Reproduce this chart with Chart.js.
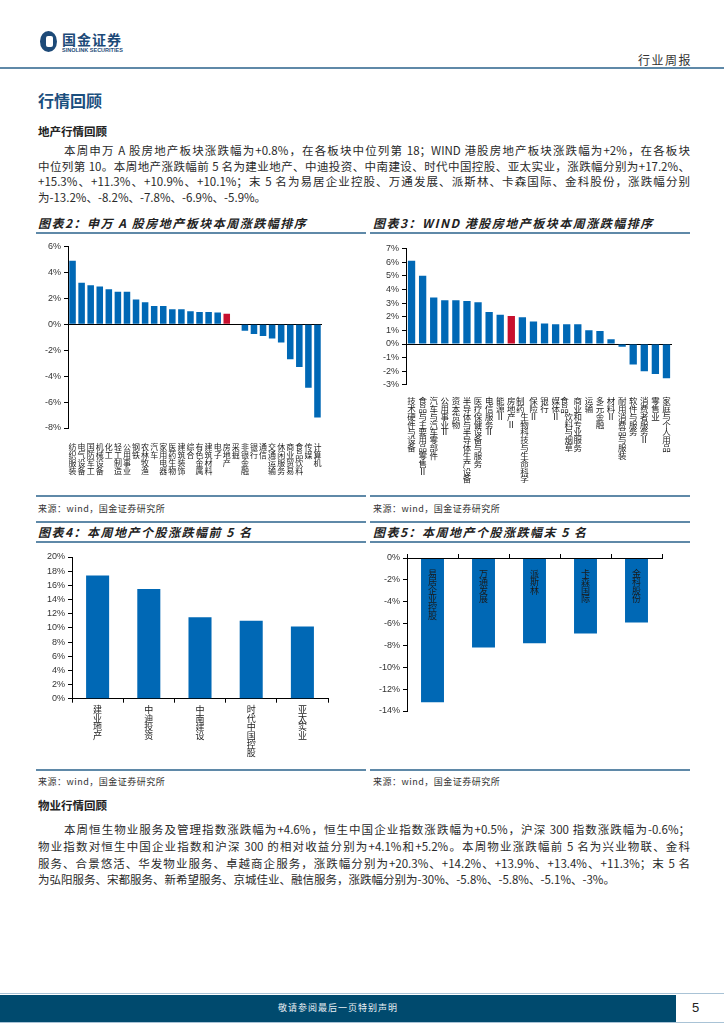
<!DOCTYPE html>
<html>
<head>
<meta charset="utf-8">
<script src="https://cdn.jsdelivr.net/npm/chart.js@4.4.0/dist/chart.umd.min.js"></script>
<style>
  body { margin: 0; background: #fff; }
  #page { position: relative; width: 724px; height: 1024px; overflow: hidden; font-family: 'Noto Sans CJK SC', sans-serif; color: #222; }
  .abs { position: absolute; }
  .line { position: absolute; height: 2px; background: #5f89a8; }
  .ptxt { position: absolute; left: 38px; width: 652px; font-size: 11.5px; line-height: 16px; white-space: nowrap; text-align: justify; text-align-last: justify; color: #2a2a2a; }
  .ptxt.last { text-align-last: left; }
  .ptxt.first { left: 64px; width: 626px; }
  .ctitle { position: absolute; font-size: 12px; font-weight: bold; font-style: italic; letter-spacing: 1.5px; color: #222; }
  .src { position: absolute; font-size: 9px; color: #333; letter-spacing: 0.5px; }
  .box { position: absolute; }
</style>
</head>
<body>
<div id="page">
  <!-- header -->
  <div class="abs" style="left:40px;top:31px;width:17px;height:21px;border-radius:50%;background:#1d4a78;"></div>
  <div class="abs" style="left:46px;top:36px;width:7px;height:11px;border-radius:2px;background:#fff;"></div>
  <div class="abs" style="left:62px;top:31px;font-size:14px;font-weight:bold;color:#1d4a78;letter-spacing:1px;line-height:16px;">国金证券</div>
  <div class="abs" style="left:62px;top:47px;font-size:5.5px;font-weight:bold;color:#1d4a78;font-family:'Liberation Sans';line-height:7px;">SINOLINK SECURITIES</div>
  <div class="abs" style="left:638px;top:52px;font-size:12px;color:#333;letter-spacing:1.5px;line-height:16px;">行业周报</div>
  <div class="line" style="left:0;top:67px;width:724px;"></div>

  <div class="abs" style="left:38px;top:90px;font-size:16px;font-weight:bold;color:#1b4f7e;line-height:20px;">行情回顾</div>

  <div class="abs" style="left:38px;top:123px;font-size:11.5px;font-weight:bold;line-height:16px;">地产行情回顾</div>
  <div class="ptxt first" style="top:142px;">本周申万 A 股房地产板块涨跌幅为+0.8%，在各板块中位列第 18；WIND 港股房地产板块涨跌幅为+2%，在各板块</div>
  <div class="ptxt" style="top:158px;">中位列第 10。本周地产涨跌幅前 5 名为建业地产、中迪投资、中南建设、时代中国控股、亚太实业，涨跌幅分别为+17.2%、</div>
  <div class="ptxt" style="top:173px;">+15.3%、+11.3%、+10.9%、+10.1%；末 5 名为易居企业控股、万通发展、派斯林、卡森国际、金科股份，涨跌幅分别</div>
  <div class="ptxt last" style="top:189px;">为-13.2%、-8.2%、-7.8%、-6.9%、-5.9%。</div>

  <!-- chart 2 / 3 titles -->
  <div class="ctitle" style="left:38px;top:214px;">图表2：申万 A 股房地产板块本周涨跌幅排序</div>
  <div class="line" style="left:36px;top:232px;width:330px;"></div>
  <div class="ctitle" style="left:373px;top:214px;">图表3：WIND 港股房地产板块本周涨跌幅排序</div>
  <div class="line" style="left:370px;top:232px;width:320px;"></div>

  <div class="box" style="left:36px;top:238px;width:330px;height:252px;"><canvas id="c2"></canvas></div>
  <div class="box" style="left:370px;top:240px;width:320px;height:247px;"><canvas id="c3"></canvas></div>

  <div class="line" style="left:36px;top:495px;width:330px;"></div>
  <div class="src" style="left:38px;top:502px;">来源：wind，国金证券研究所</div>
  <div class="line" style="left:370px;top:495px;width:320px;"></div>
  <div class="src" style="left:373px;top:502px;">来源：wind，国金证券研究所</div>

  <!-- chart 4 / 5 -->
  <div class="line" style="left:36px;top:521px;width:330px;"></div>
  <div class="ctitle" style="left:38px;top:523px;">图表4：本周地产个股涨跌幅前 5 名</div>
  <div class="line" style="left:36px;top:541px;width:330px;"></div>
  <div class="line" style="left:370px;top:521px;width:320px;"></div>
  <div class="ctitle" style="left:373px;top:523px;">图表5：本周地产个股涨跌幅末 5 名</div>
  <div class="line" style="left:370px;top:541px;width:320px;"></div>

  <div class="box" style="left:36px;top:546px;width:330px;height:220px;"><canvas id="c4"></canvas></div>
  <div class="box" style="left:370px;top:546px;width:320px;height:220px;"><canvas id="c5"></canvas></div>

  <div class="line" style="left:36px;top:769px;width:330px;"></div>
  <div class="src" style="left:38px;top:775px;">来源：wind，国金证券研究所</div>
  <div class="line" style="left:370px;top:769px;width:320px;"></div>
  <div class="src" style="left:373px;top:775px;">来源：wind，国金证券研究所</div>

  <div class="abs" style="left:38px;top:797px;font-size:11.5px;font-weight:bold;line-height:16px;">物业行情回顾</div>
  <div class="ptxt first" style="top:821px;">本周恒生物业服务及管理指数涨跌幅为+4.6%，恒生中国企业指数涨跌幅为+0.5%，沪深 300 指数涨跌幅为-0.6%；</div>
  <div class="ptxt" style="top:838px;">物业指数对恒生中国企业指数和沪深 300 的相对收益分别为+4.1%和+5.2%。本周物业涨跌幅前 5 名为兴业物联、金科</div>
  <div class="ptxt" style="top:855px;">服务、合景悠活、华发物业服务、卓越商企服务，涨跌幅分别为+20.3%、+14.2%、+13.9%、+13.4%、+11.3%；末 5 名</div>
  <div class="ptxt last" style="top:871px;">为弘阳服务、宋都服务、新希望服务、京城佳业、融信服务，涨跌幅分别为-30%、-5.8%、-5.8%、-5.1%、-3%。</div>

  <!-- footer -->
  <div class="abs" style="left:0;top:993px;width:724px;height:1px;background:#a9c3d6;"></div>
  <div class="abs" style="left:0;top:995px;width:676px;height:27px;background:#004a6e;"></div>
  <div class="abs" style="left:0;top:1022px;width:724px;height:1px;background:#a9c3d6;"></div>
  <div class="abs" style="left:0;top:1002px;width:676px;text-align:center;font-size:9px;color:#e8eef3;line-height:12px;letter-spacing:1px;">敬请参阅最后一页特别声明</div>
  <div class="abs" style="left:692px;top:1000px;font-size:13px;color:#222;font-family:'Liberation Sans';line-height:16px;">5</div>
</div>

<script>
// 申万A股行业本周涨跌幅 (%)
const swCats = ['纺织服装', '电气设备', '国防军工', '机械设备', '化工', '轻工制造', '公用事业', '钢铁', '农林牧渔', '汽车',
  '家用电器', '医药生物', '建筑装饰', '综合', '有色金属', '建筑材料', '电子', '房地产', '采掘', '非银金融',
  '银行', '通信', '交通运输', '休闲服务', '商业贸易', '食品饮料', '传媒', '计算机'];
const swVals = [4.9, 3.2, 3.0, 2.9, 2.7, 2.5, 2.5, 1.9, 1.7, 1.4,
  1.4, 1.15, 1.15, 1.0, 0.95, 0.95, 0.9, 0.8, 0, -0.5,
  -0.75, -0.9, -1.1, -1.4, -2.7, -3.3, -4.9, -7.2];
const swTicks = [-8, -6, -4, -2, 0, 2, 4, 6];

// WIND港股行业本周涨跌幅 (%)
const hkCats = ['技术硬件与设备', '食品与主要用品零售Ⅱ', '汽车与汽车零部件', '公用事业Ⅱ', '资本货物', '半导体与半导体生产设备',
  '医疗保健设备与服务', '电信服务Ⅱ', '能源Ⅱ', '房地产Ⅱ', '制药、生物科技与生命科学', '保险Ⅱ', '银行', '媒体Ⅱ',
  '食品、饮料与烟草', '商业和专业服务', '运输', '多元金融', '材料Ⅱ', '耐用消费品与服装', '软件与服务', '消费者服务Ⅱ',
  '零售业', '家庭与个人用品'];
const hkVals = [6.1, 5.0, 3.4, 3.2, 3.2, 3.15, 3.05, 2.35, 2.15, 2.05, 1.95, 1.65,
  1.5, 1.45, 1.45, 1.45, 1.0, 0.95, 0.35, -0.2, -1.5, -2.0, -2.2, -2.5];
const hkTicks = [-3, -2, -1, 0, 1, 2, 3, 4, 5, 6, 7];

// 个股涨跌幅前5 / 末5 (%)
const topCats = ['建业地产', '中迪投资', '中南建设', '时代中国控股', '亚太实业'];
const topVals = [17.4, 15.5, 11.5, 11.0, 10.2];
const topTicks = [0, 2, 4, 6, 8, 10, 12, 14, 16, 18, 20];
const botCats = ['易居企业控股', '万通发展', '派斯林', '卡森国际', '金科股份'];
const botVals = [-13.2, -8.2, -7.8, -6.9, -5.9];
const botTicks = [-14, -12, -10, -8, -6, -4, -2, 0];

const BLUE = '#0068b5';
const RED = '#c8102e';
const LAT = "'Liberation Sans', 'Noto Sans CJK SC', sans-serif";
const CJK = "'Noto Sans CJK SC', sans-serif";

// stack characters vertically; "A、B" becomes two columns, second one starting lower
function vertical(name) {
  const parts = name.split('、');
  if (parts.length === 1) return Array.from(name);
  const a = Array.from(parts[0]), b = Array.from(parts[1]);
  const rows = [];
  const n = Math.max(a.length, b.length + 2);
  for (let i = 0; i < n; i++) {
    const cb = (i >= 2 && b[i - 2]) ? b[i - 2] : '\u3000';
    rows.push(i < a.length ? a[i] + '\u2002' : '\u2002' + cb);
  }
  return rows;
}

function yAxis(ticks, zero) {
  return {
    min: ticks[0],
    max: ticks[ticks.length - 1],
    afterBuildTicks: ax => { ax.ticks = ticks.map(v => ({ value: v })); },
    ticks: { autoSkip: false, callback: v => v + '%', font: { family: LAT, size: 9 }, color: '#333', padding: 3 },
    grid: {
      drawOnChartArea: zero,
      color: ctx => (ctx.tick && ctx.tick.value === 0) ? '#000' : 'rgba(0,0,0,0)',
      tickColor: '#000',
      tickLength: 4,
      lineWidth: 1
    },
    border: { display: true, color: '#000' }
  };
}

function baseOpts(pad) {
  return {
    responsive: true,
    maintainAspectRatio: false,
    animation: false,
    layout: { padding: pad },
    plugins: { legend: { display: false }, tooltip: { enabled: false } }
  };
}

// 图表2
new Chart(document.getElementById('c2'), {
  type: 'bar',
  data: {
    labels: swCats.map(vertical),
    datasets: [{
      data: swVals,
      backgroundColor: swCats.map(c => c === '房地产' ? RED : BLUE),
      categoryPercentage: 1, barPercentage: 0.72, borderWidth: 0
    }]
  },
  options: Object.assign(baseOpts({ left: 6, right: 44, top: 6, bottom: 8 }), {
    scales: {
      x: {
        ticks: { autoSkip: false, maxRotation: 0, minRotation: 0, padding: 7,
          font: { family: CJK, size: 8, lineHeight: 1 }, color: '#222' },
        grid: { display: false },
        border: { display: false }
      },
      y: yAxis(swTicks, true)
    }
  })
});

// 图表3
new Chart(document.getElementById('c3'), {
  type: 'bar',
  data: {
    labels: hkCats.map(vertical),
    datasets: [{
      data: hkVals,
      backgroundColor: hkCats.map(c => c === '房地产Ⅱ' ? RED : BLUE),
      categoryPercentage: 1, barPercentage: 0.66, borderWidth: 0
    }]
  },
  options: Object.assign(baseOpts({ left: 10, right: 18, top: 0, bottom: 0 }), {
    scales: {
      x: {
        ticks: { autoSkip: false, maxRotation: 0, minRotation: 0, padding: 4,
          font: { family: CJK, size: 8.5, lineHeight: 0.92 }, color: '#222' },
        grid: { display: false },
        border: { display: false }
      },
      y: yAxis(hkTicks, true)
    }
  })
});

// 图表4
new Chart(document.getElementById('c4'), {
  type: 'bar',
  data: {
    labels: topCats.map(vertical),
    datasets: [{ data: topVals, backgroundColor: BLUE, categoryPercentage: 1, barPercentage: 0.45, borderWidth: 0 }]
  },
  options: Object.assign(baseOpts({ left: 8, right: 38, top: 11, bottom: 6 }), {
    scales: {
      x: {
        ticks: { autoSkip: false, maxRotation: 0, minRotation: 0, padding: 3,
          font: { family: CJK, size: 9, lineHeight: 0.95 }, color: '#222' },
        grid: { display: true, drawOnChartArea: false, color: '#000', tickLength: 4 },
        border: { display: true, color: '#000' }
      },
      y: yAxis(topTicks, false)
    }
  })
});

// 图表5: category labels sit just under the 0% line, inside the bars
new Chart(document.getElementById('c5'), {
  type: 'bar',
  data: {
    labels: botCats.map(vertical),
    datasets: [{ data: botVals, backgroundColor: BLUE, categoryPercentage: 1, barPercentage: 0.45, borderWidth: 0 }]
  },
  options: Object.assign(baseOpts({ left: 6, right: 28, top: 8, bottom: 55 }), {
    scales: {
      x: {
        position: { y: 0 },
        ticks: { z: 1, autoSkip: false, maxRotation: 0, minRotation: 0, padding: 3,
          font: { family: CJK, size: 9, lineHeight: 0.95 }, color: '#1a1a1a' },
        grid: { display: false },
        border: { display: true, color: '#000', z: 1 }
      },
      x2: {
        type: 'category',
        position: 'top',
        labels: botCats,
        offset: true,
        ticks: { display: false },
        grid: { display: true, drawOnChartArea: false, color: '#000', tickLength: 4 },
        border: { display: false }
      },
      y: yAxis(botTicks, false)
    }
  })
});
</script>
</body>
</html>
